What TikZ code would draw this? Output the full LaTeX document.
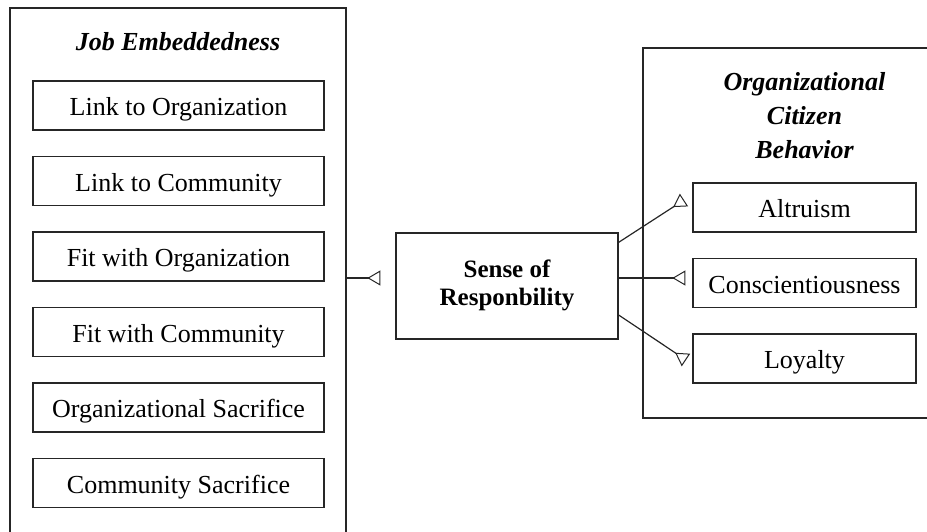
\documentclass[tikz,border=0pt]{standalone}
\usepackage{fontspec}
\setmainfont{Liberation Serif}
\usetikzlibrary{arrows.meta,calc}
\tikzset{
  frame/.style={draw=black!85, line width=1.3pt},
  itembox/.style={draw=black!85, line width=1.3pt, minimum height=49pt, inner sep=0pt,
    text height=20pt, text depth=0pt, font=\fontsize{26}{30}\selectfont},
  titletext/.style={font=\fontsize{26}{34}\selectfont\bfseries\itshape, align=center},
  conn/.style={draw=black!85, line width=1.2pt, -{Triangle[open,reversed,length=13pt,width=15pt,line width=1pt]}}
}
\begin{document}
\begin{tikzpicture}[x=1pt,y=-1pt]
\useasboundingbox (0,0) rectangle (927,531);
% outer frames
\draw[frame] (10,540) -- (10,8) -- (346,8) -- (346,540);
\draw[frame] (935,48) -- (643,48) -- (643,418) -- (935,418);
\coordinate (jeR) at (346,278);
% left title and items
\node[titletext] (jet) at (178,42) {Job Embeddedness};
\node[itembox, minimum width=291pt] (l1) at (178.5,105.5) {Link to Organization};
\node[itembox, minimum width=291pt] (l2) at (178.5,181) {Link to Community};
\node[itembox, minimum width=291pt] (l3) at (178.5,256.5) {Fit with Organization};
\node[itembox, minimum width=291pt] (l4) at (178.5,332) {Fit with Community};
\node[itembox, minimum width=291pt] (l5) at (178.5,407.5) {Organizational Sacrifice};
\node[itembox, minimum width=291pt] (l6) at (178.5,483) {Community Sacrifice};
% centre
\node[draw=black!85, line width=1.3pt, minimum width=222pt, minimum height=106pt, inner sep=0pt] (sense) at (507,286) {};
\node[font=\fontsize{25}{28}\selectfont\bfseries, align=center, anchor=base] (sensetxt) at (507,305) {Sense of\\Responbility};
% right title and items
\node[titletext] (ocb) at (804.5,116) {Organizational\\Citizen\\Behavior};
\node[itembox, minimum width=223pt] (alt) at (804.5,207.5) {Altruism};
\node[itembox, minimum width=223pt] (cons) at (804.5,283) {Conscientiousness};
\node[itembox, minimum width=223pt] (loy) at (804.5,358.5) {Loyalty};
% connectors
\coordinate (a1) at (684,200);
\coordinate (a3) at (686,360);
\draw[conn, shorten >=15pt] (jeR) -- ([yshift=8pt]sense.west);
\draw[conn] ([yshift=-10pt]sense.north east) -- (a1);
\draw[conn, shorten >=7pt] ([yshift=8pt]sense.east) -- ([yshift=5pt]cons.west);
\draw[conn] ([yshift=-29pt]sense.east) -- (a3);
\end{tikzpicture}
\end{document}
